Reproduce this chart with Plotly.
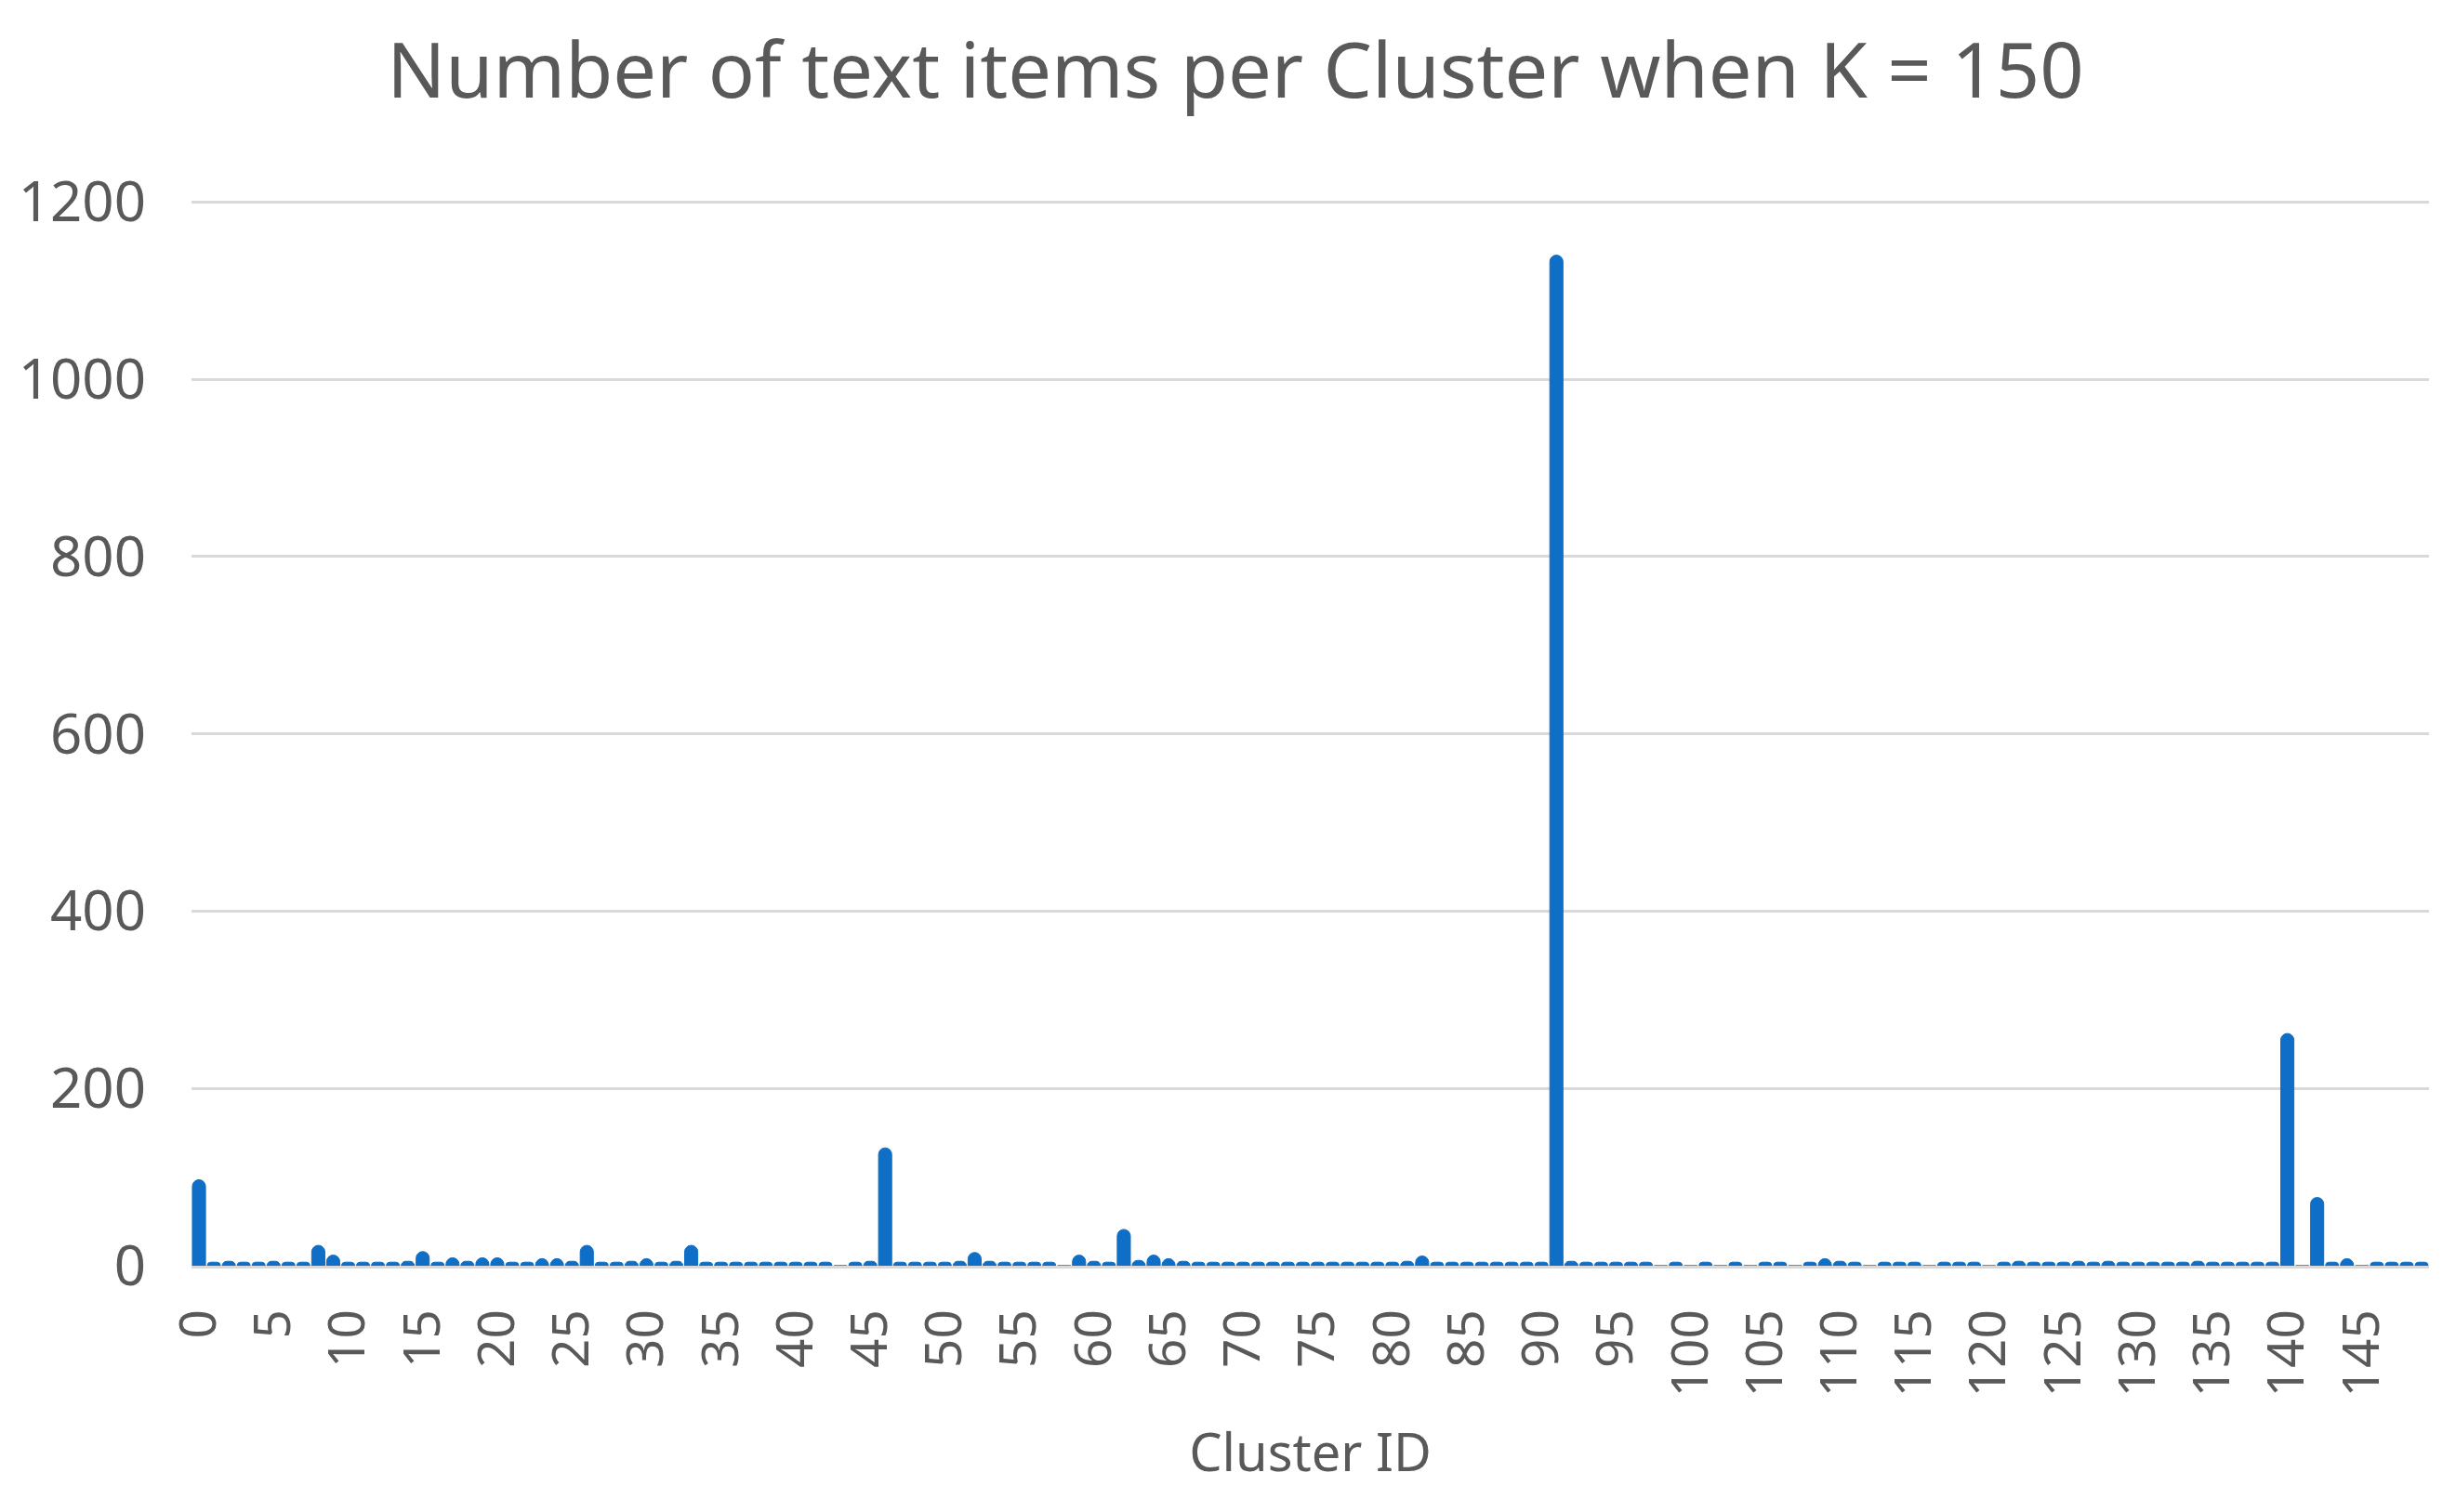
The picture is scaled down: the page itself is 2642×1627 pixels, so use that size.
import plotly.graph_objects as go

# cluster ids 0..149 and item counts
cluster_ids = list(range(150))
counts = [
    97, 4, 5, 4, 4, 5, 4, 4, 23, 12,      # 0-9
    4, 4, 4, 4, 5, 16, 4, 9, 5, 9,        # 10-19
    9, 4, 4, 8, 8, 5, 23, 4, 4, 5,        # 20-29
    8, 4, 5, 23, 4, 4, 4, 4, 4, 4,        # 30-39
    4, 4, 4, 0, 4, 5, 133, 4, 4, 4,       # 40-49
    4, 5, 15, 5, 4, 4, 4, 4, 0, 12,       # 50-59
    5, 4, 41, 6, 12, 8, 5, 4, 4, 4,       # 60-69
    4, 4, 4, 4, 4, 4, 4, 4, 4, 4,         # 70-79
    4, 5, 11, 4, 4, 4, 4, 4, 4, 4,        # 80-89
    4, 1140, 5, 4, 4, 4, 4, 4, 0, 4,      # 90-99
    0, 4, 0, 4, 0, 4, 4, 0, 4, 8,         # 100-109
    5, 4, 0, 4, 4, 4, 0, 4, 4, 4,         # 110-119
    0, 4, 5, 4, 4, 4, 5, 4, 5, 4,         # 120-129
    4, 4, 4, 4, 5, 4, 4, 4, 4, 4,         # 130-139
    262, 0, 77, 4, 8, 0, 4, 4, 4, 4,      # 140-149
]
tick_vals = list(range(0, 150, 5))
tick_text = [str(v) for v in tick_vals]
y_ticks = [0, 200, 400, 600, 800, 1000, 1200]

bar_color = "#0F6FC6"
text_color = "#595959"
grid_color = "#D9D9D9"
font_family = "Noto Sans, Open Sans, sans-serif"

fig = go.Figure()
fig.add_trace(go.Bar(
    x=cluster_ids, y=counts,
    marker=dict(color=bar_color, cornerradius="50%",
                line=dict(color=bar_color, width=1)),
))

# y range goes a touch past 1200 so the top gridline gets drawn
fig.update_layout(
    width=2642, height=1627,
    paper_bgcolor="white", plot_bgcolor="white",
    margin=dict(l=193, r=37, t=205, b=273),
    bargap=0.12,
    showlegend=False,
    font=dict(family=font_family, color=text_color),
    title=dict(text="Number of text items per Cluster when K = 150",
               x=0.5, xref="container", xanchor="center",
               y=0.958, yanchor="middle",
               font=dict(size=83, color=text_color, family=font_family)),
)

fig.update_xaxes(
    range=[-0.5, 149.5],
    tickmode="array", tickvals=tick_vals, ticktext=tick_text,
    tickangle=-90, tickfont=dict(size=55, color=text_color),
    ticks="", ticklabelstandoff=22,
    showgrid=False, zeroline=False,
    showline=True, linecolor=grid_color, linewidth=3,
    title=dict(text="Cluster ID", font=dict(size=56, color=text_color), standoff=42),
)
fig.update_yaxes(
    range=[0, 1204.5],
    tickmode="array", tickvals=y_ticks,
    tickfont=dict(size=60, color=text_color),
    ticks="", ticklabelstandoff=48,
    showgrid=True, gridcolor=grid_color, gridwidth=3,
    zeroline=False, showline=False,
)

fig.write_html("out.html")
